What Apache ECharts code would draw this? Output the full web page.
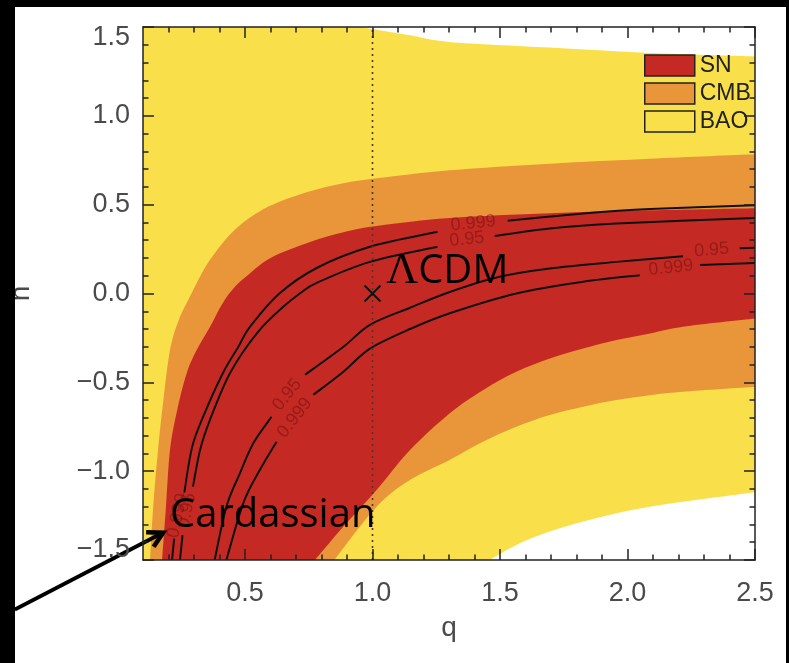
<!DOCTYPE html>
<html><head><meta charset="utf-8">
<script src="https://cdn.jsdelivr.net/npm/echarts@6/dist/echarts.min.js"></script>
<style>
html,body{margin:0;padding:0;background:#000;width:789px;height:663px;overflow:hidden}
#c{position:absolute;left:15px;top:7px;width:771px;height:656px;background:#fff}
</style></head><body><div id="c"></div>
<script>
// axis ranges and ticks
const xMin = 0.1, xMax = 2.5, yMin = -1.5, yMax = 1.5;
const xMajorTicks = [0.5, 1.0, 1.5, 2.0, 2.5];
const xTickLabels = ['0.5', '1.0', '1.5', '2.0', '2.5'];
const xMinorTicks = [0.2,0.3,0.4,0.6,0.7,0.8,0.9,1.1,1.2,1.3,1.4,1.6,1.7,1.8,1.9,2.1,2.2,2.3,2.4];
const yMajorTicks = [-1.5, -1.0, -0.5, 0.0, 0.5, 1.0, 1.5];
const yTickLabels = ['−1.5', '−1.0', '−0.5', '0.0', '0.5', '1.0', '1.5'];
const legendNames = ['SN', 'CMB', 'BAO'];

// BAO (yellow) boundaries [q, n]
const baoUpper = [[0.951,1.5],[1.147,1.453],[1.302,1.416],[1.695,1.384],[2.088,1.354],[2.5,1.335]];
const baoLower = [[1.459,-1.5],[1.564,-1.415],[1.695,-1.34],[1.826,-1.284],[1.957,-1.237],[2.088,-1.2],[2.218,-1.172],[2.5,-1.119]];
// CMB (orange) boundaries
const cmbUpper = [[0.128,-1.5],[0.14,-1.2],[0.159,-0.879],[0.18,-0.6],[0.206,-0.317],[0.24,-0.15],[0.29,0.0],[0.324,0.096],[0.362,0.188],[0.427,0.31],[0.493,0.40],[0.56,0.465],[0.624,0.51],[0.755,0.575],[0.886,0.62],[1.016,0.648],[1.302,0.694],[1.695,0.731],[2.088,0.759],[2.5,0.784]];
const cmbLower = [[0.85,-1.5],[1.016,-1.2],[1.147,-1.05],[1.302,-0.937],[1.433,-0.834],[1.564,-0.75],[1.695,-0.684],[1.826,-0.637],[1.957,-0.6],[2.088,-0.572],[2.218,-0.553],[2.5,-0.525]];
// SN (red) boundaries
const snUpper = [[0.175,-1.5],[0.19,-1.2],[0.206,-0.879],[0.235,-0.65],[0.272,-0.446],[0.31,-0.32],[0.363,-0.187],[0.41,-0.06],[0.453,0.025],[0.5,0.09],[0.6,0.2],[0.755,0.29],[0.886,0.345],[1.016,0.38],[1.302,0.425],[1.695,0.452],[2.088,0.468],[2.5,0.48]];
const snLower = [[0.775,-1.5],[0.886,-1.312],[1.016,-1.106],[1.147,-0.881],[1.302,-0.675],[1.433,-0.544],[1.564,-0.441],[1.695,-0.366],[1.826,-0.309],[1.957,-0.262],[2.088,-0.225],[2.218,-0.187],[2.5,-0.141]];

// SN contour lines (segments separated where labels sit)
const contour999Upper = [
  [[0.214,-1.5],[0.222,-1.38]],
  [[0.262,-1.12],[0.292,-0.868],[0.336,-0.693],[0.414,-0.446],[0.474,-0.3],[0.52,-0.187],[0.635,0.0],[0.783,0.145],[0.99,0.263],[1.255,0.347]],
  [[1.53,0.41],[1.826,0.45],[2.088,0.475],[2.5,0.497]]
];
const contour95Upper = [
  [[0.245,-1.5],[0.255,-1.36]],
  [[0.296,-1.087],[0.324,-0.879],[0.363,-0.71],[0.442,-0.446],[0.548,-0.221],[0.65,-0.075],[0.715,0.0],[0.783,0.061],[0.99,0.178],[1.255,0.263]],
  [[1.479,0.323],[1.695,0.366],[1.957,0.394],[2.5,0.425]]
];
const contour95Lower = [
  [[0.381,-1.5],[0.427,-1.2],[0.48,-1.012],[0.532,-0.844],[0.604,-0.694]],
  [[0.736,-0.457],[0.886,-0.3],[0.99,-0.176],[1.147,-0.08],[1.306,0.01],[1.498,0.094],[1.695,0.141],[1.957,0.178],[2.218,0.21]],
  [[2.44,0.255],[2.5,0.258]]
];
const contour999Lower = [
  [[0.427,-1.5],[0.493,-1.181],[0.558,-0.994],[0.624,-0.834]],
  [[0.768,-0.57],[0.886,-0.44],[0.99,-0.31],[1.147,-0.2],[1.306,-0.11],[1.564,0.0],[1.826,0.066],[2.048,0.103]],
  [[2.284,0.16],[2.5,0.172]]
];
const contourLabelText = ['0.999', '0.95', '0.95', '0.999', '0.95', '0.999', '0.999', '0.95'];
const contourLabelPos = [[1.395,0.395],[1.37,0.305],[2.33,0.245],[2.17,0.145],[0.665,-0.57],[0.695,-0.70],[0.236,-1.25],[0.272,-1.22]];
const contourLabelAngle = [6, 6, 5, 6, 51, 52, 78, 78];

// reference model and annotations
const vLineQ = 1.0;
const lcdmPoint = [1.0, 0.0];
const lcdmTextPos = [1.054, 0.122];
const cardTextPos = [0.206, -1.25];
const arrowFrom = [-0.403, -1.779];
const arrowTo = [0.179, -1.346];

const YELLOW = '#f9e04b', ORANGE = '#e9963a', RED = '#c42a23';

function smoothCmds(pts) {
  let d = '';
  const n = pts.length;
  for (let i = 0; i < n - 1; i++) {
    const p0 = pts[i - 1] || pts[i], p1 = pts[i], p2 = pts[i + 1], p3 = pts[i + 2] || p2;
    const c1 = [p1[0] + (p2[0] - p0[0]) / 6, p1[1] + (p2[1] - p0[1]) / 6];
    const c2 = [p2[0] - (p3[0] - p1[0]) / 6, p2[1] - (p3[1] - p1[1]) / 6];
    d += ' C' + c1[0] + ',' + c1[1] + ' ' + c2[0] + ',' + c2[1] + ' ' + p2[0] + ',' + p2[1];
  }
  return d;
}
const pt = p => p[0] + ',' + p[1];

function bandPath(api, upper, lower, leftTop) {
  const P = p => api.coord(p);
  const up = upper.map(P);
  const lo = lower.slice().reverse().map(P);
  let d;
  if (leftTop) {
    d = 'M' + pt(P([xMin, yMax])) + ' L' + pt(up[0]);
  } else {
    d = 'M' + pt(up[0]);
  }
  d += smoothCmds(up) + ' L' + pt(lo[0]) + smoothCmds(lo);
  if (leftTop) d += ' L' + pt(P([xMin, yMin]));
  return d + ' Z';
}

function regionSeries(name, color, upper, lower, leftTop, z) {
  return {
    type: 'custom', name: name, coordinateSystem: 'cartesian2d', xAxisIndex: 0, yAxisIndex: 0,
    data: [[xMin, yMin]], itemStyle: { color: color }, silent: true, clip: true, z: z,
    renderItem: function (params, api) {
      return { type: 'path', shape: { pathData: bandPath(api, upper, lower, leftTop) }, style: { fill: color } };
    }
  };
}

const chart = echarts.init(document.getElementById('c'), null, { renderer: 'canvas' });
const AXZ = 20;
const axisCommon = { type: 'value', min: xMin, max: xMax, splitLine: { show: false }, z: AXZ };
const labelColor = '#4a4a4a';
const axisFont = 'Liberation Sans';
const tickStyle = { color: '#222', width: 1.5 };

const option = {
  animation: false,
  backgroundColor: '#fff',
  grid: { left: 128, top: 20, right: 31, bottom: 103, containLabel: false, outerBoundsMode: 'none' },
  legend: {
    data: legendNames, orient: 'vertical', left: 629, top: 47, itemWidth: 50, itemHeight: 21, itemGap: 5,
    icon: 'rect', padding: 0, selectedMode: false, z: 30,
    itemStyle: { borderColor: '#222', borderWidth: 1.5 },
    textStyle: { fontFamily: axisFont, fontSize: 23, color: '#222' }
  },
  xAxis: [
    Object.assign({}, axisCommon, {
      position: 'bottom', name: 'q', nameLocation: 'middle', nameGap: 54,
      nameTextStyle: { fontFamily: axisFont, fontSize: 28, color: labelColor },
      axisLine: { show: true, onZero: false, lineStyle: tickStyle },
      axisTick: { show: true, inside: true, length: 11, customValues: xMajorTicks, lineStyle: tickStyle },
      axisLabel: { show: true, customValues: xMajorTicks, margin: 20, fontFamily: axisFont, fontSize: 27, color: labelColor,
        formatter: v => xTickLabels[xMajorTicks.findIndex(t => Math.abs(t - v) < 1e-6)] }
    }),
    Object.assign({}, axisCommon, {
      position: 'bottom', axisLine: { show: false, onZero: false },
      axisTick: { show: true, inside: true, length: 5.5, customValues: xMinorTicks, lineStyle: tickStyle },
      axisLabel: { show: false }
    }),
    Object.assign({}, axisCommon, {
      position: 'top', axisLine: { show: true, onZero: false, lineStyle: tickStyle },
      axisTick: { show: true, inside: true, length: 11, customValues: xMajorTicks, lineStyle: tickStyle },
      axisLabel: { show: false }
    }),
    Object.assign({}, axisCommon, {
      position: 'top', axisLine: { show: false, onZero: false },
      axisTick: { show: true, inside: true, length: 5.5, customValues: xMinorTicks, lineStyle: tickStyle },
      axisLabel: { show: false }
    })
  ],
  yAxis: [
    {
      type: 'value', min: yMin, max: yMax, interval: 0.5, position: 'left', splitLine: { show: false }, z: AXZ,
      name: 'n', nameLocation: 'middle', nameGap: 108, nameRotate: 90,
      nameTextStyle: { fontFamily: axisFont, fontSize: 28, color: labelColor },
      axisLine: { show: true, onZero: false, lineStyle: tickStyle },
      axisTick: { show: true, inside: true, length: 11, lineStyle: tickStyle },
      minorTick: { show: true, splitNumber: 5, length: 5.5, lineStyle: tickStyle },
      axisLabel: { show: true, margin: 13, fontFamily: axisFont, fontSize: 27, color: labelColor,
        formatter: v => {
          const i = yMajorTicks.findIndex(t => Math.abs(t - v) < 1e-6);
          const s = yTickLabels[i];
          if (i === 0) return '{lo|' + s + '}';
          if (i === yMajorTicks.length - 1) return '{hi|' + s + '}';
          return s;
        },
        rich: {
          lo: { fontFamily: axisFont, fontSize: 27, color: labelColor, padding: [0, 0, 20, 0] },
          hi: { fontFamily: axisFont, fontSize: 27, color: labelColor, padding: [22, 0, 0, 0] }
        }
      }
    },
    {
      type: 'value', min: yMin, max: yMax, interval: 0.5, position: 'right', splitLine: { show: false }, z: AXZ,
      axisLine: { show: true, onZero: false, lineStyle: tickStyle },
      axisTick: { show: true, inside: true, length: 11, lineStyle: tickStyle },
      minorTick: { show: true, splitNumber: 5, length: 5.5, lineStyle: tickStyle },
      axisLabel: { show: false }
    }
  ],
  series: [
    regionSeries('BAO', YELLOW, baoUpper, baoLower, true, 1),
    regionSeries('CMB', ORANGE, cmbUpper, cmbLower, false, 2),
    regionSeries('SN', RED, snUpper, snLower, false, 3),
    {
      type: 'custom', name: 'contours', coordinateSystem: 'cartesian2d', data: [[xMin, yMin]], silent: true, clip: true, z: 4,
      renderItem: function (params, api) {
        const P = p => api.coord(p);
        const children = [];
        [contour999Upper, contour95Upper, contour95Lower, contour999Lower].forEach(c => {
          c.forEach(seg => {
            const px = seg.map(P);
            children.push({ type: 'path', shape: { pathData: 'M' + pt(px[0]) + smoothCmds(px) },
              style: { fill: null, stroke: '#111', lineWidth: 2 } });
          });
        });
        const a = P([vLineQ, yMin]), b = P([vLineQ, yMax]);
        children.push({ type: 'line', shape: { x1: a[0], y1: a[1], x2: b[0], y2: b[1] },
          style: { stroke: '#4a3a2a', lineWidth: 1.6, lineDash: [2, 4] } });
        return { type: 'group', children: children };
      }
    },
    {
      type: 'custom', name: 'contourLabels', coordinateSystem: 'cartesian2d', data: contourLabelPos, silent: true, clip: false, z: 5,
      renderItem: function (params, api) {
        const p = api.coord([api.value(0), api.value(1)]);
        return { type: 'text', x: p[0], y: p[1], rotation: contourLabelAngle[params.dataIndex] * Math.PI / 180,
          style: { text: contourLabelText[params.dataIndex], fill: 'rgba(95,12,10,0.45)', font: '18px "Liberation Sans"',
            align: 'center', verticalAlign: 'middle' } };
      }
    },
    {
      type: 'custom', name: 'lcdm', coordinateSystem: 'cartesian2d', data: [lcdmPoint], silent: true, clip: false, z: 6,
      renderItem: function (params, api) {
        const p = api.coord([api.value(0), api.value(1)]);
        const t = api.coord(lcdmTextPos);
        const h = 8;
        return { type: 'group', children: [
          { type: 'line', shape: { x1: p[0] - h, y1: p[1] - h, x2: p[0] + h, y2: p[1] + h }, style: { stroke: '#111', lineWidth: 2 } },
          { type: 'line', shape: { x1: p[0] - h, y1: p[1] + h, x2: p[0] + h, y2: p[1] - h }, style: { stroke: '#111', lineWidth: 2 } },
          { type: 'text', x: t[0], y: t[1], style: { text: '{a|Λ}{b|CDM}', align: 'left', verticalAlign: 'middle',
            rich: { a: { fontFamily: 'Liberation Serif', fontSize: 44, fill: '#000' }, b: { fontFamily: 'Open Sans', fontSize: 40, fill: '#000' } } } }
        ] };
      }
    },
    {
      type: 'custom', name: 'annot', coordinateSystem: 'cartesian2d', data: [arrowTo], silent: true, clip: false, z: 7,
      renderItem: function (params, api) {
        const tip = api.coord([api.value(0), api.value(1)]);
        const st = api.coord(arrowFrom);
        const t = api.coord(cardTextPos);
        const ang = Math.atan2(tip[1] - st[1], tip[0] - st[0]);
        const L = 17, spread = 0.5;
        const h1 = [tip[0] - L * Math.cos(ang - spread), tip[1] - L * Math.sin(ang - spread)];
        const h2 = [tip[0] - L * Math.cos(ang + spread), tip[1] - L * Math.sin(ang + spread)];
        return { type: 'group', children: [
          { type: 'line', shape: { x1: st[0], y1: st[1], x2: tip[0] - 2 * Math.cos(ang), y2: tip[1] - 2 * Math.sin(ang) }, style: { stroke: '#000', lineWidth: 4 } },
          { type: 'polyline', shape: { points: [h1, tip, h2] }, style: { stroke: '#000', lineWidth: 4.5, fill: null, lineJoin: 'miter' } },
          { type: 'text', x: t[0], y: t[1], style: { text: 'Cardassian', align: 'left', verticalAlign: 'middle',
            font: '40px "Open Sans"', fill: '#000' } }
        ] };
      }
    }
  ]
};
chart.setOption(option);
</script>
</body></html>
